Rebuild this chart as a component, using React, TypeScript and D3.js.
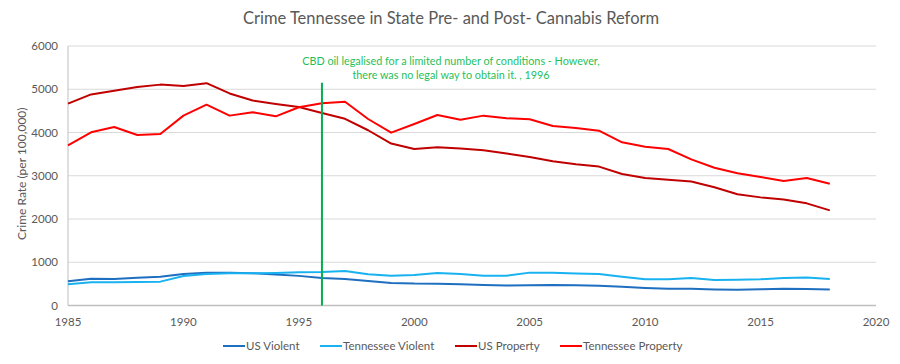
import React from "react";
import * as d3 from "d3";

const years = d3.range(1985, 2019);
const usViolent = [558, 620, 612, 641, 666, 730, 758, 758, 747, 714, 685, 637, 611, 568, 523, 507, 505, 494, 476, 463, 469, 474, 467, 458, 432, 404, 387, 387, 369, 362, 373, 386, 383, 369];
const tnViolent = [490, 536, 540, 545, 552, 682, 728, 745, 748, 752, 767, 775, 797, 722, 690, 705, 751, 728, 690, 690, 760, 760, 742, 728, 667, 608, 605, 636, 590, 597, 608, 636, 645, 613];
const usProperty = [4666, 4881, 4963, 5054, 5107, 5073, 5140, 4903, 4740, 4660, 4591, 4451, 4316, 4052, 3744, 3618, 3658, 3631, 3591, 3514, 3432, 3335, 3264, 3212, 3041, 2946, 2905, 2868, 2734, 2574, 2500, 2451, 2362, 2200];
const tnProperty = [3700, 4005, 4127, 3942, 3965, 4390, 4643, 4390, 4467, 4374, 4583, 4675, 4712, 4312, 3996, 4197, 4405, 4297, 4390, 4328, 4305, 4150, 4104, 4042, 3773, 3672, 3618, 3380, 3186, 3056, 2971, 2879, 2948, 2816];
const xTicks = [1985, 1990, 1995, 2000, 2005, 2010, 2015, 2020];
const yTicks = [0, 1000, 2000, 3000, 4000, 5000, 6000];
const seriesNames = ["US Violent", "Tennessee Violent", "US Property", "Tennessee Property"];
const seriesColors = ["#1f6fc0", "#19b2f0", "#c00000", "#ff0000"];
const annotationYear = 1996;
const annotationLines = ["CBD oil legalised for a limited number of conditions - However,", "there was no legal way to obtain it. , 1996"];
const annotationTop = 5150;

const FONT = "Lato, 'Open Sans', sans-serif";

export default function App() {
  const W = 900, H = 364;
  const x = d3.scaleLinear().domain([1985, 2020]).range([68, 876]);
  const y = d3.scaleLinear().domain([0, 6000]).range([305.5, 46]);
  const series = [usViolent, tnViolent, usProperty, tnProperty];
  const line = (vals: number[]) =>
    d3.line<number>().x((_, i) => x(years[i])).y((v) => y(v))(vals) || "";
  const legendX = [223, 320, 455, 560];
  return (
    <svg width={W} height={H} style={{ position: "absolute", left: 0, top: 0, fontFamily: FONT }}>
      <rect width={W} height={H} fill="#fff" />
      <text x={451} y={24} textAnchor="middle" fontSize={16.5} fill="#595959">
        Crime Tennessee  in State Pre- and Post- Cannabis Reform
      </text>
      {yTicks.map((t) => (
        <g key={t}>
          <line x1={x(1985)} x2={x(2020)} y1={y(t)} y2={y(t)} stroke={t === 0 ? "#bfbfbf" : "#d9d9d9"} strokeWidth={t === 0 ? 1.5 : 1} />
          <text x={58} y={y(t) + 4} textAnchor="end" fontSize={11.5} fill="#595959">{t}</text>
        </g>
      ))}
      <line x1={x(1985)} x2={x(1985)} y1={y(6000)} y2={y(0)} stroke="#bfbfbf" strokeWidth={1} />
      {xTicks.map((t) => (
        <text key={t} x={x(t)} y={326} textAnchor="middle" fontSize={11.5} fill="#595959">{t}</text>
      ))}
      <text transform={`translate(26,${y(3000) - 2}) rotate(-90)`} textAnchor="middle" fontSize={12} fill="#595959">
        Crime Rate (per 100,000)
      </text>
      {series.map((s, i) => (
        <path key={i} d={line(s)} fill="none" stroke={seriesColors[i]} strokeWidth={2} strokeLinejoin="round" />
      ))}
      <line x1={x(annotationYear)} x2={x(annotationYear)} y1={y(annotationTop)} y2={y(0)} stroke="#00b050" strokeWidth={2} />
      {annotationLines.map((l, i) => (
        <text key={i} x={451} y={65 + i * 14} textAnchor="middle" fontSize={10.8} fill="#1fbf5a">{l}</text>
      ))}
      {seriesNames.map((n, i) => (
        <g key={n}>
          <line x1={legendX[i]} x2={legendX[i] + 22} y1={346} y2={346} stroke={seriesColors[i]} strokeWidth={2} />
          <text x={legendX[i] + 23} y={350} fontSize={11.5} fill="#595959">{n}</text>
        </g>
      ))}
    </svg>
  );
}
